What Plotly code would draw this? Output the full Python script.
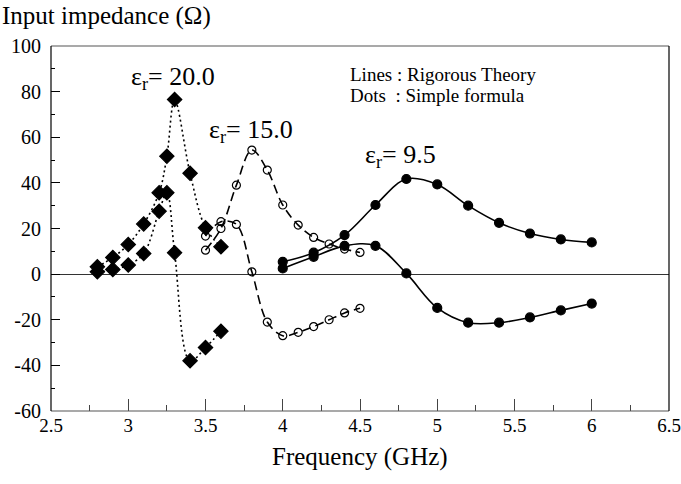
import plotly.graph_objects as go

# ---- data ----
# eps_r = 20.0 (diamonds, dotted lines)
f20 = [2.8, 2.9, 3.0, 3.1, 3.2, 3.25, 3.3, 3.4, 3.5, 3.6]
re20 = [3.2, 7.3, 13.0, 22.0, 35.7, 51.7, 76.5, 44.2, 20.3, 12.0]
im20 = [1.0, 2.0, 4.0, 9.0, 27.6, 35.7, 9.4, -38.0, -32.2, -25.0]

# eps_r = 15.0 (open circles, dashed lines)
f15 = [3.5, 3.6, 3.7, 3.8, 3.9, 4.0, 4.1, 4.2, 4.3, 4.4, 4.5]
re15 = [10.5, 20.0, 39.0, 54.4, 45.6, 30.3, 21.5, 16.1, 13.2, 11.0, 9.5]
im15 = [16.7, 23.0, 21.8, 1.0, -21.0, -27.0, -25.5, -23.0, -20.0, -17.0, -15.0]

# eps_r = 9.5 (filled circles, solid lines)
f95 = [4.0, 4.2, 4.4, 4.6, 4.8, 5.0, 5.2, 5.4, 5.6, 5.8, 6.0]
re95 = [5.4, 9.4, 17.1, 30.3, 41.7, 39.3, 30.0, 22.5, 17.8, 15.2, 13.9]
im95 = [2.5, 7.6, 12.4, 12.4, 0.3, -14.8, -21.3, -21.3, -19.0, -15.9, -12.9]

x_ticks = [2.5, 3, 3.5, 4, 4.5, 5, 5.5, 6, 6.5]
x_ticklabels = ["2.5", "3", "3.5", "4", "4.5", "5", "5.5", "6", "6.5"]
y_ticks = [-60, -40, -20, 0, 20, 40, 60, 80, 100]
y_ticklabels = ["-60", "-40", "-20", "0", "20", "40", "60", "80", "100"]

FONT = "Liberation Serif"

fig = go.Figure()

def add(f, v, dash, symbol, size):
    fig.add_trace(go.Scatter(
        x=f, y=v, mode="lines+markers",
        line=dict(color="black", width=1.6, dash=dash, shape="spline", smoothing=1.0),
        marker=dict(symbol=symbol, size=size, color="black",
                    line=dict(color="black", width=1.2)),
        showlegend=False, hoverinfo="skip"))

add(f20, re20, "2px,3px", "diamond", 11)
add(f20, im20, "2px,3px", "diamond", 11)
add(f15, re15, "9px,5px", "circle-open", 8)
add(f15, im15, "9px,5px", "circle-open", 8)
add(f95, re95, "solid", "circle", 9)
add(f95, im95, "solid", "circle", 9)

ann = []
def label(x, y, text, size):
    ann.append(dict(x=x, y=y, xref="x", yref="y", text=text, showarrow=False,
                    xanchor="left", yanchor="middle",
                    font=dict(family=FONT, size=size, color="black")))

label(3.005, 86.0, "ε<sub>r</sub>= 20.0", 26)
label(3.51, 62.8, "ε<sub>r</sub>= 15.0", 26)
label(4.52, 51.8, "ε<sub>r</sub>= 9.5", 26)
label(4.42, 87.7, "Lines : Rigorous Theory", 19)
label(4.42, 78.5, "Dots\u00a0\u00a0: Simple formula", 19)

ann.append(dict(x=0, y=1, xref="paper", yref="paper", xanchor="left", yanchor="top",
                xshift=-51, yshift=46, text="Input impedance (Ω)", showarrow=False,
                font=dict(family=FONT, size=25, color="black")))
ann.append(dict(x=0.5, y=0, xref="paper", yref="paper", xanchor="center", yanchor="top",
                yshift=-30, text="Frequency (GHz)", showarrow=False,
                font=dict(family=FONT, size=25, color="black")))

fig.update_layout(
    width=681, height=484,
    margin=dict(l=51, r=12, t=46, b=73, autoexpand=False),
    paper_bgcolor="white", plot_bgcolor="white",
    annotations=ann,
    font=dict(family=FONT, size=20, color="black"),
    shapes=[
        # plot frame: grey top/bottom, black left/right
        dict(type="line", xref="paper", yref="paper", x0=0, x1=1, y0=1, y1=1,
             line=dict(color="#555", width=1.2), layer="above"),
        dict(type="line", xref="paper", yref="paper", x0=0, x1=1, y0=0, y1=0,
             line=dict(color="#555", width=1.2), layer="above"),
        dict(type="line", xref="paper", yref="paper", x0=0, x1=0, y0=0, y1=1,
             line=dict(color="black", width=1.2), layer="above"),
        dict(type="line", xref="paper", yref="paper", x0=1, x1=1, y0=0, y1=1,
             line=dict(color="black", width=1.2), layer="above"),
    ],
)
fig.update_xaxes(
    range=[2.5, 6.5], tickvals=x_ticks, ticktext=x_ticklabels,
    automargin=False, ticklabeloverflow="allow",
    showgrid=False, zeroline=False, showline=False,
    ticks="inside", ticklen=12, tickcolor="#444", tickwidth=1,
    minor=dict(tickvals=[2.75, 3.25, 3.75, 4.25, 4.75, 5.25, 5.75, 6.25],
               ticks="inside", ticklen=6, tickcolor="#444", tickwidth=1),
    tickfont=dict(family=FONT, size=19, color="black"),
    ticklabelstandoff=1,
)
fig.update_yaxes(
    range=[-60, 100], tickvals=y_ticks, ticktext=y_ticklabels,
    automargin=False, ticklabeloverflow="allow",
    showgrid=False,
    zeroline=True, zerolinecolor="#333", zerolinewidth=1,
    showline=False,
    ticks="inside", ticklen=9, tickcolor="black", tickwidth=1,
    minor=dict(dtick=10, ticks="inside", ticklen=4, tickcolor="black", tickwidth=1),
    tickfont=dict(family=FONT, size=20, color="black"),
    ticklabelstandoff=9,
)

fig.write_html(
    "out.html",
    config={"displayModeBar": False, "staticPlot": True},
    post_script="document.body.style.margin='0';document.body.style.overflow='hidden';",
)
